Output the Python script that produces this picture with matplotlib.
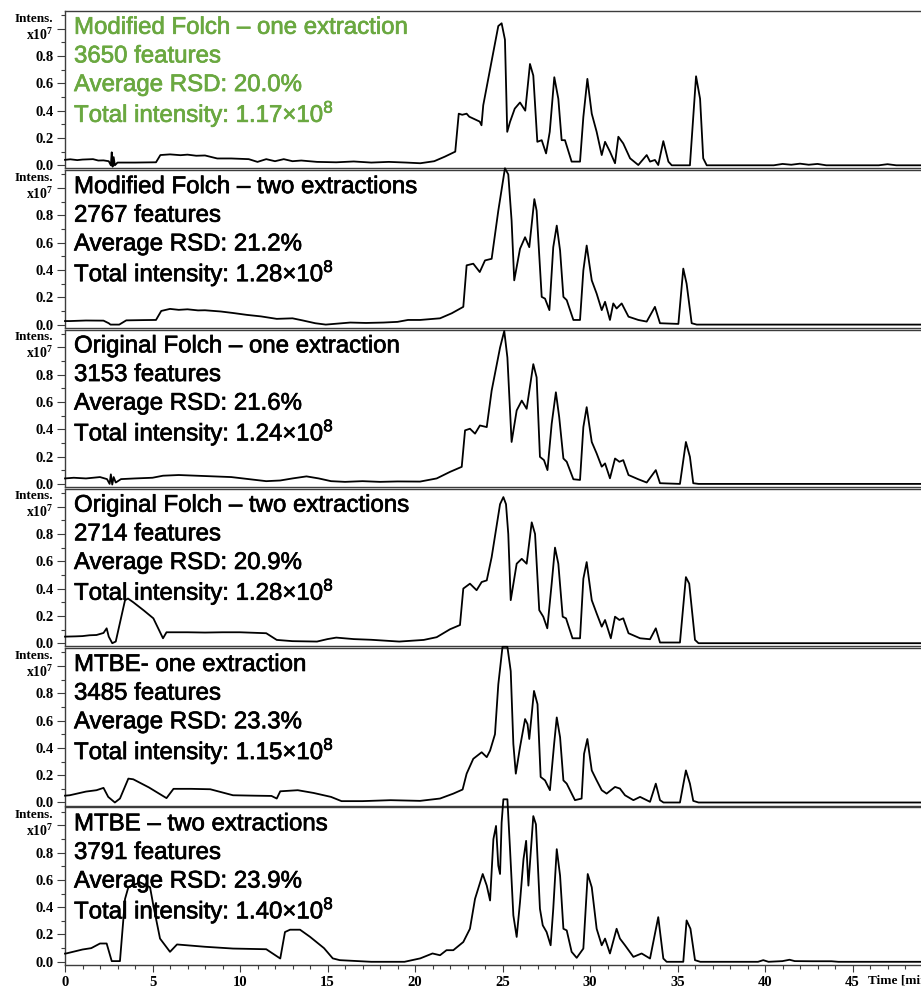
import numpy as np
import matplotlib
matplotlib.use("Agg")
import matplotlib.pyplot as plt
import matplotlib.patheffects as pe
from matplotlib.ticker import FixedLocator, FixedFormatter, MultipleLocator
from matplotlib.transforms import blended_transform_factory

plt.rcParams["mathtext.fontset"] = "custom"
plt.rcParams["mathtext.rm"] = "Liberation Sans"
plt.rcParams["mathtext.bf"] = "Liberation Serif:bold"


# (time [min], intensity x10^7) for each extraction
mod_folch_1 = [
    (0.0, 0.04), (0.3, 0.044), (0.7, 0.038), (1.0, 0.042), (1.6, 0.045), (1.9, 0.035),
    (2.2, 0.036), (2.5, 0.03), (2.62, 0.0), (2.67, 0.095), (2.72, -0.01), (2.78, 0.06),
    (2.85, 0.0), (3.0, 0.02), (4.0, 0.02), (5.2, 0.022), (5.45, 0.075), (6.0, 0.08),
    (6.6, 0.074), (7.0, 0.078), (7.5, 0.07), (8.0, 0.072), (8.7, 0.05), (9.5, 0.05),
    (10.5, 0.045), (11.0, 0.025), (11.5, 0.045), (12.0, 0.03), (12.5, 0.045), (13.0, 0.03),
    (13.5, 0.035), (14.4, 0.025), (15.5, 0.022), (16.5, 0.028), (17.5, 0.02), (18.5, 0.025),
    (19.5, 0.02), (20.3, 0.015), (21.1, 0.03), (21.7, 0.063), (22.3, 0.10), (22.5, 0.378),
    (22.7, 0.37), (22.95, 0.378), (23.1, 0.356), (23.7, 0.32), (23.8, 0.293), (23.9, 0.44),
    (24.4, 0.778), (24.76, 1.02), (24.95, 1.04), (25.14, 0.92), (25.27, 0.245), (25.43, 0.318),
    (25.7, 0.415), (26.0, 0.46), (26.3, 0.40), (26.57, 0.742), (26.76, 0.657), (26.99, 0.172),
    (27.24, 0.184), (27.49, 0.087), (27.7, 0.245), (27.96, 0.645), (28.19, 0.487), (28.38, 0.184),
    (28.57, 0.184), (28.95, 0.027), (29.43, 0.027), (29.62, 0.354), (29.85, 0.633), (30.1, 0.378),
    (30.38, 0.245), (30.67, 0.075), (30.86, 0.172), (31.14, 0.10), (31.43, 0.015), (31.62, 0.209),
    (31.9, 0.16), (32.29, 0.051), (32.76, 0.002), (33.24, 0.075), (33.43, 0.027), (33.71, 0.039),
    (33.9, 0.002), (34.19, 0.177), (34.48, 0.027), (34.67, 0.0), (35.71, 0.0), (36.06, 0.652),
    (36.29, 0.487), (36.47, 0.051), (36.67, 0.0), (40.5, 0.0), (41.0, 0.01), (41.5, 0.004),
    (42.0, 0.012), (42.5, 0.004), (43.0, 0.01), (43.5, 0.0), (46.5, 0.0), (47.0, 0.008),
    (47.5, 0.0), (50.0, 0.0),
]

mod_folch_2 = [
    (0.0, 0.026), (0.3, 0.026), (1.2, 0.03), (2.2, 0.029), (2.5, 0.01), (2.6, 0.0),
    (3.1, 0.0), (3.5, 0.031), (4.5, 0.033), (5.2, 0.034), (5.5, 0.10), (6.0, 0.115),
    (6.5, 0.108), (7.0, 0.112), (7.6, 0.104), (8.0, 0.105), (8.9, 0.096), (9.6, 0.085),
    (10.4, 0.071), (11.2, 0.06), (12.1, 0.042), (13.0, 0.046), (13.6, 0.03), (14.3, 0.01),
    (14.9, 0.0), (16.3, 0.015), (17.2, 0.012), (18.2, 0.015), (19.0, 0.02), (19.6, 0.034),
    (20.29, 0.034), (21.43, 0.046), (22.1, 0.083), (22.76, 0.13), (22.95, 0.434), (23.33, 0.446),
    (23.7, 0.385), (24.0, 0.47), (24.38, 0.482), (24.76, 0.834), (25.14, 1.145), (25.33, 1.10),
    (25.52, 0.761), (25.67, 0.324), (26.0, 0.555), (26.29, 0.640), (26.53, 0.567), (26.82, 0.919),
    (26.95, 0.834), (27.24, 0.203), (27.43, 0.19), (27.68, 0.106), (27.9, 0.567), (28.1, 0.725),
    (28.29, 0.543), (28.48, 0.203), (28.67, 0.179), (29.05, 0.034), (29.43, 0.034), (29.62, 0.397),
    (29.81, 0.579), (30.1, 0.324), (30.38, 0.227), (30.67, 0.106), (30.86, 0.167), (31.14, 0.034),
    (31.33, 0.155), (31.52, 0.118), (31.81, 0.155), (32.2, 0.058), (32.76, 0.034), (33.24, 0.022),
    (33.71, 0.13), (34.0, 0.01), (35.05, 0.005), (35.33, 0.41), (35.52, 0.30), (35.81, 0.01),
    (36.1, 0.0), (50.0, 0.0),
]

orig_folch_1 = [
    (0.0, 0.04), (0.5, 0.045), (1.2, 0.04), (2.0, 0.05), (2.4, 0.035), (2.55, 0.0),
    (2.62, 0.07), (2.7, -0.005), (2.78, 0.05), (2.9, 0.01), (3.2, 0.035), (4.0, 0.04),
    (5.0, 0.045), (5.6, 0.06), (6.5, 0.065), (7.5, 0.06), (8.5, 0.055), (9.5, 0.05),
    (10.5, 0.035), (11.5, 0.02), (12.3, 0.025), (13.0, 0.04), (13.8, 0.055), (14.5, 0.04),
    (15.2, 0.02), (16.0, 0.015), (17.0, 0.02), (18.0, 0.015), (19.0, 0.018), (20.29, 0.017),
    (21.24, 0.04), (22.0, 0.088), (22.67, 0.125), (22.86, 0.392), (23.14, 0.404), (23.43, 0.368),
    (23.71, 0.428), (24.1, 0.416), (24.38, 0.683), (24.86, 0.998), (25.1, 1.12), (25.28, 0.925),
    (25.52, 0.307), (25.81, 0.538), (26.1, 0.61), (26.38, 0.55), (26.76, 0.877), (26.95, 0.78),
    (27.14, 0.198), (27.37, 0.174), (27.57, 0.101), (27.81, 0.44), (28.05, 0.671), (28.24, 0.489),
    (28.48, 0.186), (28.67, 0.162), (29.05, 0.034), (29.43, 0.029), (29.62, 0.416), (29.81, 0.562),
    (30.1, 0.307), (30.38, 0.223), (30.67, 0.126), (30.86, 0.15), (31.14, 0.041), (31.43, 0.186),
    (31.68, 0.162), (31.9, 0.174), (32.2, 0.065), (32.76, 0.034), (33.24, 0.01), (33.76, 0.101),
    (34.0, 0.005), (35.14, 0.0), (35.48, 0.307), (35.71, 0.198), (35.9, 0.005), (36.2, 0.0),
    (50.0, 0.0),
]

orig_folch_2 = [
    (0.0, 0.048), (0.6, 0.05), (1.0, 0.052), (1.4, 0.058), (1.8, 0.06), (2.2, 0.075),
    (2.38, 0.109), (2.5, 0.048), (2.7, 0.0), (2.9, 0.012), (3.43, 0.315), (3.6, 0.327),
    (3.9, 0.30), (4.5, 0.24), (5.05, 0.182), (5.6, 0.036), (5.8, 0.08), (7.0, 0.08),
    (8.0, 0.078), (9.0, 0.08), (10.0, 0.08), (11.5, 0.073), (12.1, 0.024), (13.0, 0.015),
    (14.4, 0.012), (15.0, 0.03), (15.5, 0.041), (16.5, 0.03), (17.5, 0.025), (19.1, 0.012),
    (20.5, 0.024), (21.24, 0.044), (22.0, 0.102), (22.57, 0.133), (22.76, 0.40), (23.14, 0.436),
    (23.52, 0.388), (23.81, 0.448), (24.1, 0.46), (24.38, 0.63), (24.86, 1.018), (25.05, 1.07),
    (25.2, 1.018), (25.33, 0.80), (25.47, 0.315), (25.81, 0.582), (26.1, 0.618), (26.38, 0.582),
    (26.67, 0.885), (26.86, 0.80), (27.1, 0.242), (27.33, 0.194), (27.56, 0.109), (27.81, 0.436),
    (28.0, 0.70), (28.19, 0.582), (28.44, 0.194), (28.63, 0.182), (29.0, 0.036), (29.43, 0.036),
    (29.62, 0.472), (29.81, 0.594), (30.1, 0.315), (30.38, 0.218), (30.67, 0.121), (30.86, 0.17),
    (31.19, 0.036), (31.43, 0.194), (31.68, 0.17), (31.9, 0.182), (32.2, 0.073), (32.86, 0.036),
    (33.43, 0.029), (33.76, 0.109), (34.0, 0.005), (35.14, 0.005), (35.48, 0.484), (35.67, 0.436),
    (36.0, 0.024), (36.2, 0.0), (50.0, 0.0),
]

mtbe_1 = [
    (0.0, 0.05), (0.27, 0.053), (1.2, 0.08), (1.8, 0.09), (2.2, 0.107), (2.47, 0.041),
    (2.85, 0.0), (3.14, 0.029), (3.62, 0.175), (3.9, 0.17), (4.8, 0.11), (5.8, 0.032),
    (6.2, 0.10), (7.2, 0.10), (8.3, 0.097), (9.6, 0.053), (10.8, 0.05), (11.8, 0.048),
    (12.1, 0.029), (12.3, 0.082), (13.3, 0.09), (14.2, 0.07), (15.2, 0.041), (15.8, 0.010),
    (17.0, 0.01), (18.6, 0.017), (20.29, 0.012), (21.43, 0.029), (22.19, 0.065), (22.72, 0.095),
    (22.95, 0.211), (23.33, 0.32), (23.81, 0.368), (24.1, 0.332), (24.29, 0.38), (24.57, 0.50),
    (24.76, 0.865), (25.0, 1.14), (25.28, 1.14), (25.47, 0.962), (25.62, 0.429), (25.76, 0.211),
    (26.0, 0.405), (26.29, 0.611), (26.43, 0.574), (26.53, 0.465), (26.8, 0.817), (27.0, 0.72),
    (27.18, 0.187), (27.43, 0.162), (27.71, 0.09), (27.95, 0.429), (28.1, 0.623), (28.29, 0.478),
    (28.48, 0.162), (28.67, 0.138), (29.14, 0.017), (29.52, 0.029), (29.66, 0.356), (29.85, 0.465),
    (30.1, 0.235), (30.38, 0.162), (30.67, 0.09), (30.95, 0.065), (31.43, 0.114), (31.71, 0.102),
    (32.0, 0.053), (32.48, 0.017), (32.86, 0.041), (33.43, 0.005), (33.76, 0.138), (34.0, 0.017),
    (34.2, 0.0), (35.14, 0.0), (35.48, 0.235), (35.71, 0.138), (35.9, 0.012), (36.2, 0.0),
    (50.0, 0.0),
]

mtbe_2 = [
    (0.0, 0.06), (0.1, 0.062), (1.0, 0.09), (1.5, 0.1), (2.0, 0.134), (2.38, 0.134),
    (2.67, 0.005), (3.14, 0.005), (3.43, 0.46), (3.62, 0.546), (4.29, 0.582), (4.86, 0.546),
    (5.05, 0.412), (5.43, 0.17), (6.0, 0.073), (6.4, 0.127), (8.0, 0.11), (9.6, 0.097),
    (11.5, 0.092), (12.3, 0.024), (12.57, 0.218), (12.86, 0.235), (13.43, 0.235), (14.0, 0.183),
    (14.8, 0.10), (15.3, 0.025), (15.7, 0.012), (17.5, 0.0), (19.4, 0.0), (20.3, 0.025),
    (21.0, 0.061), (21.43, 0.048), (21.8, 0.085), (22.19, 0.085), (22.76, 0.145), (23.14, 0.242),
    (23.43, 0.461), (23.87, 0.643), (24.1, 0.558), (24.29, 0.449), (24.48, 0.898), (24.63, 0.995),
    (24.76, 0.704), (24.86, 0.643), (24.95, 1.02), (25.05, 1.19), (25.28, 1.19), (25.43, 0.825),
    (25.62, 0.34), (25.81, 0.182), (26.0, 0.437), (26.2, 0.752), (26.35, 0.886), (26.48, 0.558),
    (26.6, 0.777), (26.76, 1.067), (26.91, 1.007), (27.14, 0.388), (27.3, 0.267), (27.52, 0.218),
    (27.75, 0.121), (27.9, 0.388), (28.1, 0.825), (28.29, 0.631), (28.48, 0.242), (28.67, 0.23),
    (28.95, 0.073), (29.24, 0.029), (29.62, 0.097), (29.87, 0.643), (30.1, 0.546), (30.38, 0.242),
    (30.67, 0.121), (30.86, 0.17), (31.14, 0.061), (31.52, 0.242), (31.71, 0.17), (32.0, 0.121),
    (32.48, 0.036), (32.95, 0.061), (33.43, 0.024), (33.9, 0.327), (34.19, 0.024), (34.38, 0.0),
    (35.33, 0.0), (35.52, 0.303), (35.74, 0.242), (36.0, 0.012), (36.3, 0.0), (39.6, 0.0),
    (39.9, 0.012), (40.2, 0.0), (41.0, 0.005), (41.4, 0.015), (41.7, 0.005), (42.7, 0.004),
    (43.8, 0.004), (44.2, 0.0), (50.0, 0.0),
]

traces = [mod_folch_1, mod_folch_2, orig_folch_1, orig_folch_2, mtbe_1, mtbe_2]

titles = [
    "Modified Folch \u2013 one extraction",
    "Modified Folch \u2013 two extractions",
    "Original Folch \u2013 one extraction",
    "Original Folch \u2013 two extractions",
    "MTBE- one extraction",
    "MTBE \u2013 two extractions",
]
n_features = [3650, 2767, 3153, 2714, 3485, 3791]
avg_rsd = [20.0, 21.2, 21.6, 20.9, 23.3, 23.9]
total_int = ["1.17", "1.28", "1.24", "1.28", "1.15", "1.40"]
text_colors = ["#6aa840", "black", "black", "black", "black", "black"]

W, H = 921, 988
fig = plt.figure(figsize=(W / 100, H / 100), dpi=100)

serif_bold = dict(family="Liberation Serif", weight="bold", size=10.5)
spine_col = "#3c3c3c"
left_px = 65
panel_top = 10
panel_h = 159.3
px_per_min = 17.5
xmax = 50

for k, data in enumerate(traces):
    top = panel_top + k * panel_h
    ax = fig.add_axes([left_px / W, 1 - (top + panel_h - 1) / H,
                       xmax * px_per_min / W, (panel_h - 2) / H])
    arr = np.array(data)
    ax.plot(arr[:, 0], arr[:, 1], color="black", lw=1.3, clip_on=False, zorder=3)
    ax.set_xlim(0, xmax)
    ax.set_ylim(-0.022, 1.13)

    for side in ["top", "bottom", "left"]:
        ax.spines[side].set_color(spine_col)
        ax.spines[side].set_linewidth(1.0)
    ax.spines["right"].set_visible(False)

    ax.yaxis.set_major_locator(FixedLocator([0, 0.2, 0.4, 0.6, 0.8, 1.0]))
    ax.yaxis.set_major_formatter(FixedFormatter(["0.0", "0.2", "0.4", "0.6", "0.8", ""]))
    ax.yaxis.set_minor_locator(FixedLocator([0.1, 0.3, 0.5, 0.7, 0.9, 1.1]))
    ax.tick_params(axis="y", which="major", length=6, width=0.8, pad=2, color=spine_col)
    ax.tick_params(axis="y", which="minor", length=3, width=0.8, color=spine_col)
    for lab in ax.get_yticklabels():
        lab.set(**serif_bold)

    ax.annotate("Intens.", xy=(0, 1.075), xycoords=("axes fraction", "data"),
                xytext=(-8.5, 0), textcoords="offset points", ha="right", va="center",
                family="Liberation Serif", weight="bold", size=9.5)
    ax.annotate(r"x10$^{\mathbf{7}}$", xy=(0, 0.96), xycoords=("axes fraction", "data"),
                xytext=(-8.5, 0), textcoords="offset points", ha="right", va="center",
                family="Liberation Serif", weight="bold", size=10)

    lines = [titles[k], f"{n_features[k]} features",
             f"Average RSD: {avg_rsd[k]:.1f}%",
             f"Total intensity: {total_int[k]}\u00d710$^{{\\mathrm{{8}}}}$"]
    for j, line in enumerate(lines):
        ax.text(9 / (xmax * px_per_min), 1 - (17 + 29 * j) / panel_h, line,
                transform=ax.transAxes, ha="left", va="center",
                family="Liberation Sans", size=17.3, color=text_colors[k], zorder=4,
                path_effects=[pe.withStroke(linewidth=0.5, foreground=text_colors[k])])

    if k < len(traces) - 1:
        ax.tick_params(axis="x", which="both", bottom=False, labelbottom=False)
    else:
        ax.set_xticks(np.arange(0, 50, 5))
        ax.xaxis.set_minor_locator(MultipleLocator(1))
        ax.tick_params(axis="x", which="major", length=5, width=0.8, pad=3, color=spine_col)
        ax.tick_params(axis="x", which="minor", length=3, width=0.8, color=spine_col)
        for lab in ax.get_xticklabels():
            lab.set(**serif_bold)
        trans = blended_transform_factory(ax.transData, ax.transAxes)
        ax.text(45.9, -0.1, "Time [min]", transform=trans, ha="left", va="center",
                family="Liberation Serif", weight="bold", size=9.5)

fig.savefig("out.png", dpi=100)
